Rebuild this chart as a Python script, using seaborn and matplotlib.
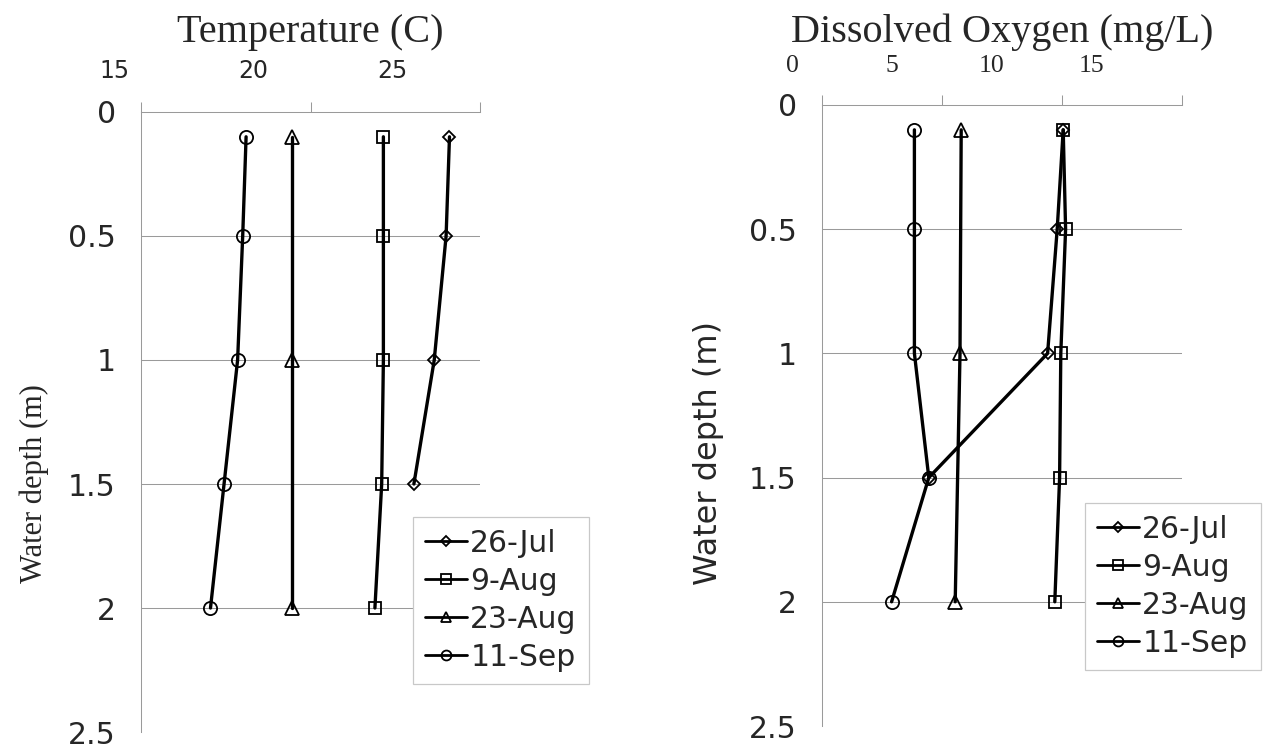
import numpy as np
import matplotlib
matplotlib.use("Agg")
import matplotlib.pyplot as plt
import seaborn as sns

# ---------------- data ----------------
series_names = ["26-Jul", "9-Aug", "23-Aug", "11-Sep"]

depth_jul26 = [0.1, 0.5, 1.0, 1.5]
depth_aug9 = [0.1, 0.5, 1.0, 1.5, 2.0]
depth_aug23 = [0.1, 1.0, 2.0]
depth_sep11 = [0.1, 0.5, 1.0, 1.5, 2.0]

temp_jul26 = [24.1, 24.0, 23.65, 23.05]
temp_aug9 = [22.15, 22.15, 22.15, 22.1, 21.9]
temp_aug23 = [19.45, 19.45, 19.45]
temp_sep11 = [18.1, 18.0, 17.85, 17.45, 17.05]

do_jul26 = [10.05, 9.8, 9.4, 4.45]
do_aug9 = [10.05, 10.15, 9.95, 9.9, 9.7]
do_aug23 = [5.8, 5.75, 5.55]
do_sep11 = [3.85, 3.85, 3.85, 4.45, 2.9]

depth_ticks = [0, 0.5, 1, 1.5, 2, 2.5]
depth_ticklabels = ["0", "0.5", "1", "1.5", "2", "2.5"]
temp_ticks = [15, 20, 25]
do_ticks = [0, 5, 10, 15]

# ---------------- style ----------------
sns.set_style("white")
plt.rcParams["font.family"] = ["DejaVu Sans"]

W, H = 1265, 749
fig = plt.figure(figsize=(W / 100, H / 100), dpi=100)

GRID = "#9a9a9a"
markers = ["D", "s", "^", "o"]
msizes = [6.5, 9.0, 9.5, 9.5]


def px_axes(l, t, r, b):
    return fig.add_axes([l / W, 1 - b / H, (r - l) / W, (b - t) / H])


def style_axes(ax, xlim, xticks):
    ax.set_ylim(2.5, 0)
    ax.set_xlim(*xlim)
    ax.set_yticks(depth_ticks)
    ax.set_yticklabels(depth_ticklabels)
    ax.set_xticks(xticks)
    ax.xaxis.tick_top()
    ax.tick_params(axis="x", which="both", top=True, bottom=False,
                   labeltop=False, labelbottom=False,
                   direction="out", length=7.2, width=0.75, color=GRID)
    ax.tick_params(axis="y", direction="out", length=7.2, width=0.75,
                   color=GRID, labelsize=21.5, pad=11)
    for s in ["right", "bottom"]:
        ax.spines[s].set_visible(False)
    for s in ["top", "left"]:
        ax.spines[s].set_color(GRID)
        ax.spines[s].set_linewidth(0.75)
    ax.grid(False)
    for t in depth_ticks[1:-1]:
        ax.axhline(t, color=GRID, lw=0.75, zorder=0)
    ax.set_xlabel("")


def draw_series(ax, xs_list, ys_list):
    for name, xs, ys, m, ms in zip(series_names, xs_list, ys_list, markers, msizes):
        sns.lineplot(x=xs, y=ys, ax=ax, sort=False, estimator=None,
                     color="black", lw=2.4, marker=m, markersize=ms,
                     markerfacecolor="none", markeredgecolor="black",
                     markeredgewidth=1.3, legend=False)
        ax.lines[-1].set_label(name)


def tick_label_axes(l, r, y, lim, ticks, font, size):
    a = fig.add_axes([l / W, 1 - y / H, (r - l) / W, 0.0001])
    a.set_xlim(*lim)
    a.set_xticks(ticks)
    a.set_xticklabels([str(t) for t in ticks], fontfamily=font, fontsize=size)
    a.xaxis.tick_top()
    a.tick_params(axis="x", length=0, pad=0, labeltop=True, labelbottom=False)
    a.set_yticks([])
    for s in a.spines.values():
        s.set_visible(False)
    a.patch.set_alpha(0)
    return a


# ---------------- left: temperature ----------------
ax1 = px_axes(141, 112, 480, 732)
draw_series(ax1, [temp_jul26, temp_aug9, temp_aug23, temp_sep11],
            [depth_jul26, depth_aug9, depth_aug23, depth_sep11])
style_axes(ax1, (15, 25), temp_ticks)
ax1.set_ylabel("Water depth (m)", fontfamily="Liberation Serif", fontsize=22)
ax1.yaxis.set_label_coords(-0.272, 0.40)
tick_label_axes(114, 392, 83, (15, 25), temp_ticks, "DejaVu Sans", 17)
fig.text((141 + 480) / 2 / W, 1 - 42 / H, "Temperature (C)",
         fontfamily="Liberation Serif", fontsize=29, ha="center", va="baseline")

# ---------------- right: dissolved oxygen ----------------
ax2 = px_axes(822, 105, 1182, 726)
draw_series(ax2, [do_jul26, do_aug9, do_aug23, do_sep11],
            [depth_jul26, depth_aug9, depth_aug23, depth_sep11])
style_axes(ax2, (0, 15), do_ticks)
ax2.set_ylabel("Water depth (m)", fontfamily="DejaVu Sans", fontsize=23)
ax2.yaxis.set_label_coords(-0.272, 0.44)
tick_label_axes(792, 1091, 77, (0, 15), do_ticks, "Liberation Serif", 18.5)
fig.text((822 + 1182) / 2 / W, 1 - 42 / H, "Dissolved Oxygen (mg/L)",
         fontfamily="Liberation Serif", fontsize=29, ha="center", va="baseline")

# ---------------- legends ----------------
for ax, anchor in [(ax1, (413 / W, 1 - 517 / H)), (ax2, (1085 / W, 1 - 503 / H))]:
    h, l = ax.get_legend_handles_labels()
    leg = fig.legend(h, l, loc="upper left", bbox_to_anchor=anchor,
                     prop={"family": "DejaVu Sans", "size": 21.5},
                     handlelength=1.4, handletextpad=0.12, labelspacing=0.3,
                     borderpad=0.4, borderaxespad=0, markerscale=0.75,
                     frameon=True, fancybox=False, framealpha=1,
                     edgecolor="#c8c8c8")
    leg.get_frame().set_linewidth(0.9)
    for ln in leg.get_lines():
        ln.set_linewidth(2.0)

fig.savefig("out.png", dpi=100)
